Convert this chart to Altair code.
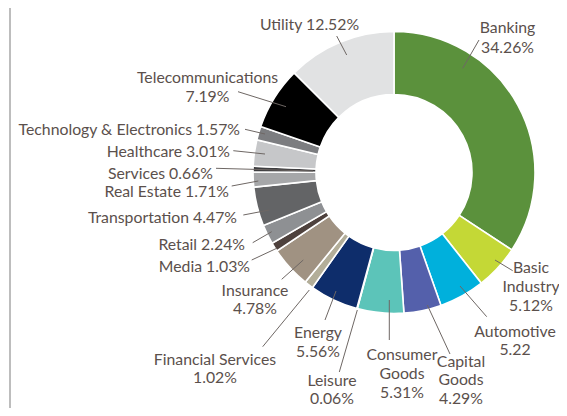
import altair as alt
import pandas as pd

# ---------------- data ----------------
sectors = ["Banking", "Basic Industry", "Automotive", "Capital Goods", "Consumer Goods",
           "Leisure", "Energy", "Financial Services", "Insurance", "Media", "Retail",
           "Transportation", "Real Estate", "Services", "Healthcare",
           "Technology & Electronics", "Telecommunications", "Utility"]
weights = [34.26, 5.12, 5.22, 4.29, 5.31, 0.06, 5.56, 1.02, 4.78, 1.03, 2.24,
           4.47, 1.71, 0.66, 3.01, 1.57, 7.19, 12.52]
labels = ["Banking\n34.26%", "Basic\nIndustry\n5.12%", "Automotive\n5.22",
          "Capital\nGoods\n4.29%", "Consumer\nGoods\n5.31%", "Leisure\n0.06%",
          "Energy\n5.56%", "Financial Services\n1.02%", "Insurance\n4.78%",
          "Media 1.03%", "Retail 2.24%", "Transportation 4.47%", "Real Estate 1.71%",
          "Services 0.66%", "Healthcare 3.01%", "Technology & Electronics 1.57%",
          "Telecommunications\n7.19%", "Utility 12.52%"]

# ---------------- styles ----------------
colors = ["#5b913c", "#c4d836", "#00b0dc", "#5460ab", "#5cc4b9", "#d8d8d8",
          "#0e2d6b", "#b3ae99", "#a09282", "#4e413d", "#8e9093", "#636466",
          "#a6a7a9", "#3d3d3f", "#c6c7c9", "#7c7d80", "#000000", "#e1e2e3"]

# ---------------- layout (reference pixel coords) ----------------
label_x = [507.5, 531, 515, 461, 402, 332, 318, 215, 255, 250, 245, 237, 229,
           213, 230, 240, 207.5, 309.5]
label_y = [33, 273, 336.5, 366.5, 360, 386, 337.5, 364.5, 296, 271.5, 250, 222.5,
           197, 178.5, 156.5, 135, 83, 29.5]
label_lh = [19.5, 19, 18.5, 18.5, 19, 18, 19.5, 18, 18, 18, 18, 18, 18,
            18, 18, 18, 18.5, 18]
label_align = ["center"] * 9 + ["right"] * 7 + ["center", "center"]
lead_x1 = [479, 495, 460, 427.3, 389.3, 339.3, 325, 262.7, 281.7, 251.7, 252.7,
           243.3, 231.7, 216, 233.3, 245, 238, 336.7]
lead_y1 = [40, 260, 286, 305, 300, 372, 320, 346.7, 279.3, 260, 242.7, 215, 186,
           168.3, 150.7, 129.3, 91.7, 36]
lead_x2 = [462.7, 512.7, 486.7, 450, 389.3, 357.3, 336, 309.3, 303.3, 276.7,
           271.7, 269.3, 258.3, 313, 265, 265, 286, 346.7]
lead_y2 = [68.3, 270.7, 316.7, 354, 340, 310, 291, 290, 260, 248.3, 231.7, 210,
           181, 171, 154, 134, 106.7, 55]

W, H, OFF = 551, 400, 8
CX, CY = 394 - OFF, 172.5 - OFF

df = pd.DataFrame({
    "sector": sectors, "weight": weights, "idx": list(range(len(sectors))),
    "x1": lead_x1, "y1": lead_y1, "x2": lead_x2, "y2": lead_y2,
})

rows = []
for i, lab in enumerate(labels):
    for j, line in enumerate(lab.split("\n")):
        rows.append({"text": line, "lx": label_x[i],
                     "ly": label_y[i] + j * label_lh[i], "align": label_align[i]})
tdf = pd.DataFrame(rows)

xs = alt.Scale(domain=[OFF, W + OFF], range=[0, W], zero=False, nice=False)
ys = alt.Scale(domain=[OFF, H + OFF], range=[0, H], zero=False, nice=False)

base = alt.Chart(df)

arc = base.mark_arc(innerRadius=78, outerRadius=141, stroke="white",
                    strokeWidth=1.6).encode(
    theta=alt.Theta("weight:Q", stack=True),
    color=alt.Color("sector:N", scale=alt.Scale(domain=sectors, range=colors),
                    legend=None),
    order=alt.Order("idx:Q"),
    x=alt.value(CX), y=alt.value(CY),
)

leaders = base.mark_rule(color="#6e6764", strokeWidth=1).encode(
    x=alt.X("x1:Q", scale=xs, axis=None),
    y=alt.Y("y1:Q", scale=ys, axis=None),
    x2="x2:Q", y2="y2:Q",
)

text_style = dict(font="Lato", fontSize=15.8, color="#5b504c", baseline="alphabetic")
tbase = alt.Chart(tdf)

text_c = tbase.transform_filter(alt.datum.align == "center").mark_text(
    align="center", **text_style).encode(
    x=alt.X("lx:Q", scale=xs, axis=None),
    y=alt.Y("ly:Q", scale=ys, axis=None),
    text="text:N",
)
text_r = tbase.transform_filter(alt.datum.align == "right").mark_text(
    align="right", **text_style).encode(
    x=alt.X("lx:Q", scale=xs, axis=None),
    y=alt.Y("ly:Q", scale=ys, axis=None),
    text="text:N",
)

border = base.mark_rule(color="#bdbdbd", strokeWidth=2).encode(
    x=alt.value(2), y=alt.value(0), y2=alt.value(H),
)

chart = alt.layer(border, arc, leaders, text_c, text_r).properties(
    width=W, height=H,
    autosize=alt.AutoSizeParams(type="none"),
    padding=0,
).configure_view(stroke=None)

chart.save("out.html", embed_options={"renderer": "svg", "actions": False})
